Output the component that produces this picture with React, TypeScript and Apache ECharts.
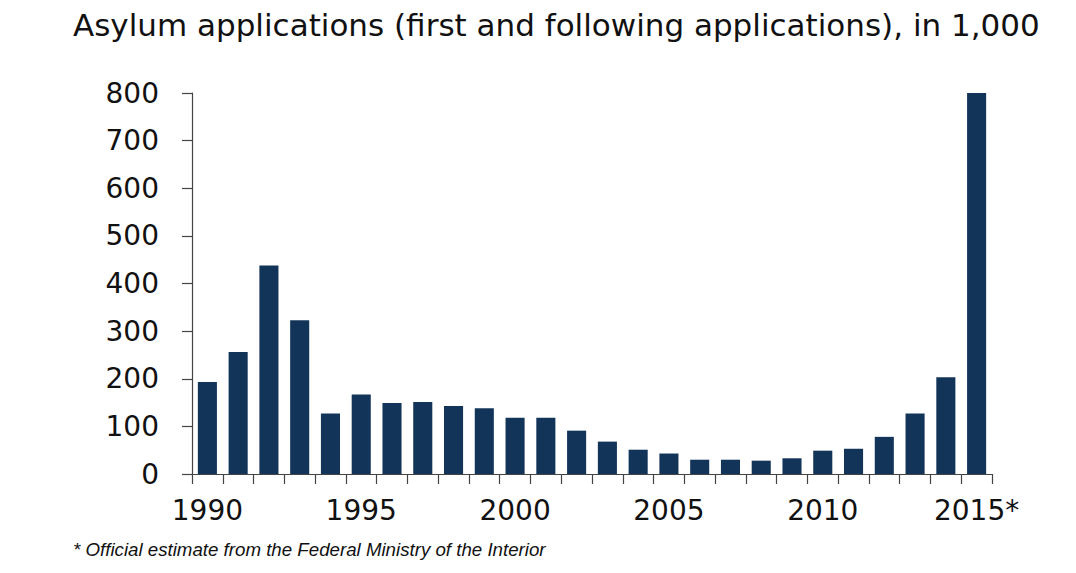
import React, { useEffect, useRef } from "react";
import * as echarts from "echarts";

const categories = [
  "1990", "1991", "1992", "1993", "1994", "1995", "1996", "1997", "1998", "1999",
  "2000", "2001", "2002", "2003", "2004", "2005", "2006", "2007", "2008", "2009",
  "2010", "2011", "2012", "2013", "2014", "2015*",
];
const applications = [
  193, 256, 438, 323, 127, 167, 149, 151, 143, 138,
  118, 118, 91, 68, 51, 43, 30, 30, 28, 33,
  49, 53, 78, 127, 203, 800,
];
const titleText = "Asylum applications (first and following applications), in 1,000";
const footnoteText = "* Official estimate from the Federal Ministry of the Interior";

export default function App() {
  const ref = useRef<HTMLDivElement>(null);
  useEffect(() => {
    document.body.style.margin = "0";
    if (!ref.current) return;
    const chart = echarts.init(ref.current, null, { renderer: "svg" });
    const axisColor = "#444444";
    chart.setOption({
      animation: false,
      backgroundColor: "#ffffff",
      title: {
        text: titleText,
        left: 68,
        top: 4,
        textStyle: {
          fontFamily: "DejaVu Sans",
          fontWeight: "normal",
          fontSize: 31,
          color: "#111111",
        },
      },
      grid: { left: 192, right: 84, top: 93, bottom: 99, containLabel: false },
      xAxis: {
        type: "category",
        data: categories,
        boundaryGap: true,
        axisLine: { show: true, lineStyle: { color: axisColor, width: 1.2 } },
        axisTick: { show: true, interval: 0, length: 10, alignWithLabel: false, lineStyle: { color: axisColor, width: 1.2 } },
        axisLabel: {
          interval: 4,
          margin: 22,
          fontFamily: "DejaVu Sans",
          fontSize: 28,
          color: "#111111",
        },
        splitLine: { show: false },
      },
      yAxis: {
        type: "value",
        min: 0,
        max: 800,
        interval: 100,
        axisLine: { show: true, lineStyle: { color: axisColor, width: 1.2 } },
        axisTick: { show: true, length: 10, lineStyle: { color: axisColor, width: 1.2 } },
        axisLabel: {
          margin: 33,
          fontFamily: "DejaVu Sans",
          fontSize: 28,
          color: "#111111",
        },
        splitLine: { show: false },
      },
      series: [
        {
          type: "bar",
          data: applications,
          barCategoryGap: "38%",
          itemStyle: { color: "#133459" },
        },
      ],
      graphic: [
        {
          type: "text",
          left: 73,
          top: 540,
          style: {
            text: footnoteText,
            fontFamily: "Liberation Sans",
            fontStyle: "italic",
            fontSize: 18.7,
            fill: "#111111",
          },
        },
      ],
    });
    return () => chart.dispose();
  }, []);
  return <div ref={ref} style={{ width: 1076, height: 573 }} />;
}
